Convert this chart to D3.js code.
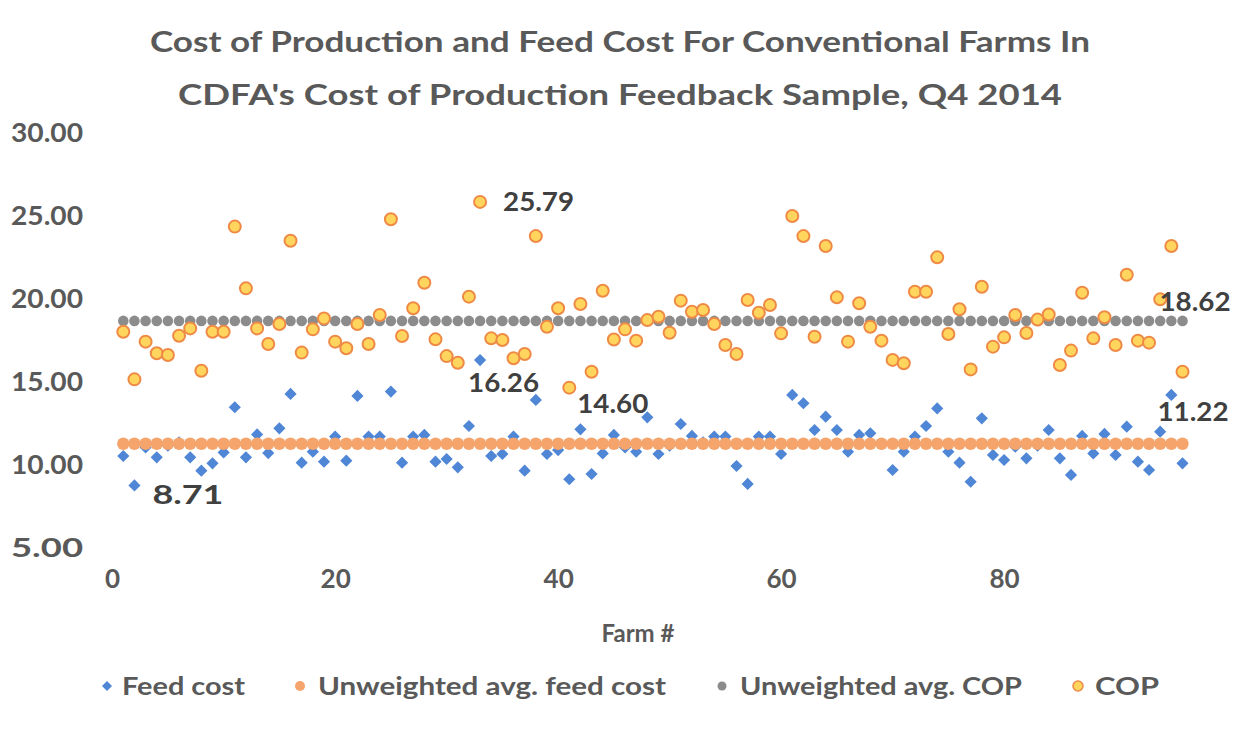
<!DOCTYPE html>
<html><head><meta charset="utf-8">
<script src="https://cdn.jsdelivr.net/npm/d3@7"></script>
<style>
html,body{margin:0;padding:0;background:#fff;}
text{font-family:Lato,"Open Sans",sans-serif;font-weight:bold;}
</style></head>
<body><svg id="c" width="1241" height="731"></svg>
<script>
// ---- data ----
const titleLines = ["Cost of Production and Feed Cost For Conventional Farms In",
                    "CDFA's Cost of Production Feedback Sample, Q4 2014"];
const xTickValues = [0, 20, 40, 60, 80];
const yTickValues = [5, 10, 15, 20, 25, 30];
const feedCost = [
 10.48, 8.71, 11.0, 10.40, 11.1, 11.3, 10.40, 9.60, 10.04, 10.70,
 13.42, 10.40, 11.78, 10.66, 12.15, 14.22, 10.08, 10.74, 10.14, 11.65,
 10.20, 14.10, 11.65, 11.65, 14.36, 10.08, 11.65, 11.75, 10.14, 10.30,
 9.80, 12.29, 16.26, 10.48, 10.60, 11.65, 9.60, 13.86, 10.60, 10.84,
 9.08, 12.09, 9.40, 10.64, 11.75, 11.0, 10.74, 12.81, 10.60, 11.1,
 12.41, 11.69, 11.3, 11.65, 11.65, 9.88, 8.80, 11.65, 11.65, 10.60,
 14.16, 13.66, 12.05, 12.85, 12.05, 10.74, 11.75, 11.85, 11.2, 9.64,
 10.74, 11.65, 12.29, 13.35, 10.74, 10.08, 8.93, 12.75, 10.54, 10.24,
 11.04, 10.34, 11.1, 12.05, 10.34, 9.34, 11.69, 10.64, 11.81, 10.54,
 12.25, 10.14, 9.64, 11.95, 14.16, 10.04];
const cop = [
 17.97, 15.10, 17.37, 16.67, 16.57, 17.73, 18.17, 15.62, 17.97, 17.97,
 24.30, 20.58, 18.17, 17.23, 18.43, 23.45, 16.71, 18.11, 18.77, 17.37,
 16.97, 18.43, 17.23, 18.98, 24.74, 17.71, 19.38, 20.92, 17.51, 16.50,
 16.10, 20.08, 25.79, 17.57, 17.47, 16.37, 16.63, 23.73, 18.27, 19.38,
 14.60, 19.64, 15.56, 20.44, 17.50, 18.11, 17.43, 18.67, 18.87, 17.91,
 19.84, 19.17, 19.28, 18.43, 17.17, 16.63, 19.88, 19.11, 19.58, 17.87,
 24.94, 23.73, 17.67, 23.13, 20.04, 17.37, 19.68, 18.27, 17.43, 16.27,
 16.07, 20.38, 20.38, 22.45, 17.83, 19.32, 15.70, 20.68, 17.07, 17.63,
 18.98, 17.89, 18.70, 19.01, 15.96, 16.83, 20.32, 17.57, 18.84, 17.17,
 21.40, 17.43, 17.31, 19.92, 23.13, 15.56];
const avgFeedCost = 11.22;
const avgCOP = 18.62;
const farms = feedCost.map((d, i) => i + 1);
const avgFeedSeries = farms.map(() => avgFeedCost);
const avgCOPSeries = farms.map(() => avgCOP);
const legendItems = ["Feed cost", "Unweighted avg. feed cost", "Unweighted avg. COP", "COP"];

// ---- drawing ----
const svg = d3.select("#c");
const C = {feed:"#4f86d6", avgFeed:"#f5a46c", avgCop:"#8c8c8c", copFill:"#ffd55e", copStroke:"#ef8a45", text:"#595959", label:"#404040"};

const x = d3.scaleLinear().domain([0, 96]).range([112.15, 1182.5]);
const y = d3.scaleLinear().domain([5, 30]).range([547, 132]);

function fit(sel, w){ sel.attr("textLength", w).attr("lengthAdjust","spacingAndGlyphs"); }

// title
svg.append("text").attr("x", 620).attr("y", 52).attr("text-anchor","middle")
  .attr("font-size", 28).attr("fill", C.text).text(titleLines[0]).call(fit, 940);
svg.append("text").attr("x", 620).attr("y", 105).attr("text-anchor","middle")
  .attr("font-size", 28).attr("fill", C.text).text(titleLines[1]).call(fit, 884);

// y axis
const gy = svg.append("g").attr("transform","translate(90,0)")
  .call(d3.axisLeft(y).tickValues(yTickValues).tickFormat(d3.format(".2f")).tickSize(0).tickPadding(7));
gy.select(".domain").remove();
gy.selectAll("text").attr("font-size", 26).attr("fill", C.text).attr("font-family","Lato").attr("font-weight","bold")
  .attr("dy","0.36em").call(fit, 72);

// x axis
const gx = svg.append("g").attr("transform","translate(0,570)")
  .call(d3.axisBottom(x).tickValues(xTickValues).tickSize(0).tickPadding(0));
gx.select(".domain").remove();
gx.selectAll("text").attr("font-size", 26).attr("fill", C.text).attr("font-family","Lato").attr("font-weight","bold");

svg.append("text").attr("x", 638).attr("y", 642).attr("text-anchor","middle")
  .attr("font-size", 24).attr("fill", C.text).text("Farm #");

const plot = svg.append("g");
const diamond = d3.symbol().type(d3.symbolSquare).size(74);
// feed cost diamonds
plot.append("g").selectAll("path").data(farms).join("path")
  .attr("d", diamond)
  .attr("transform", (d,i) => `translate(${x(d)},${y(feedCost[i])}) rotate(45)`)
  .attr("fill", C.feed);
// avg feed cost
plot.append("g").selectAll("circle").data(farms).join("circle")
  .attr("cx", d => x(d)).attr("cy", (d,i) => y(avgFeedSeries[i])).attr("r", 6.2)
  .attr("fill", C.avgFeed);
// avg COP
plot.append("g").selectAll("circle").data(farms).join("circle")
  .attr("cx", d => x(d)).attr("cy", (d,i) => y(avgCOPSeries[i])).attr("r", 5.3)
  .attr("fill", C.avgCop);
// COP
plot.append("g").selectAll("circle").data(farms).join("circle")
  .attr("cx", d => x(d)).attr("cy", (d,i) => y(cop[i])).attr("r", 6)
  .attr("fill", C.copFill).attr("stroke", C.copStroke).attr("stroke-width", 2);

// data labels
const labels = [
  {farm:2, v:feedCost[1], t:"8.71", dx:18, dy:9},
  {farm:33, v:cop[32], t:"25.79", dx:23, dy:0},
  {farm:33, v:feedCost[32], t:"16.26", dx:-12, dy:23},
  {farm:41, v:cop[40], t:"14.60", dx:8, dy:16},
  {farm:96, v:avgCOP, t:"18.62", dx:-23, dy:-19},
  {farm:96, v:avgFeedCost, t:"11.22", dx:-25, dy:-32}
];
svg.append("g").selectAll("text").data(labels).join("text")
  .attr("x", d => x(d.farm) + d.dx).attr("y", d => y(d.v) + d.dy)
  .attr("dy","0.36em").attr("font-size", 26).attr("fill", C.label).text(d => d.t)
  .each(function(){ d3.select(this).call(fit, 71); });

// legend
const lg = svg.append("g");
const legendPos = [{mx:107, tx:122, w:123}, {mx:300, tx:318, w:348}, {mx:722, tx:740, w:282}, {mx:1078, tx:1095, w:64}];
legendItems.forEach((name, i) => {
  const p = legendPos[i], ly = 686;
  if (i === 0) lg.append("path").attr("d", d3.symbol().type(d3.symbolSquare).size(50)).attr("transform",`translate(${p.mx},${ly}) rotate(45)`).attr("fill", C.feed);
  if (i === 1) lg.append("circle").attr("cx", p.mx).attr("cy", ly).attr("r", 5).attr("fill", C.avgFeed);
  if (i === 2) lg.append("circle").attr("cx", p.mx).attr("cy", ly).attr("r", 4.5).attr("fill", C.avgCop);
  if (i === 3) lg.append("circle").attr("cx", p.mx).attr("cy", ly).attr("r", 5).attr("fill", C.copFill).attr("stroke", C.copStroke).attr("stroke-width", 1.5);
  lg.append("text").attr("x", p.tx).attr("y", ly).attr("dy","0.36em").attr("font-size", 24).attr("fill", C.text).text(name).call(fit, p.w);
});
</script></body></html>
